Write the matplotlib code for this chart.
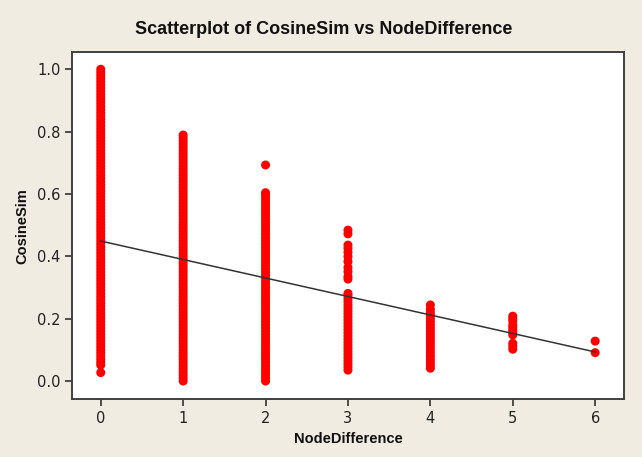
import matplotlib
matplotlib.use("Agg")
import matplotlib.pyplot as plt
import numpy as np

# ---- data ----
node_differences = [0, 1, 2, 3, 4, 5, 6]

sim_0 = [0.027, 0.051, 0.06, 0.07, 0.08, 0.09, 0.10, 0.11, 0.12, 0.13, 0.14,
         0.15, 0.16, 0.17, 0.18, 0.19, 0.20, 0.21, 0.22, 0.23, 0.24, 0.25, 0.26,
         0.27, 0.28, 0.29, 0.30, 0.31, 0.32, 0.33, 0.34, 0.35, 0.36, 0.37, 0.38,
         0.39, 0.40, 0.41, 0.42, 0.43, 0.44, 0.45, 0.46, 0.47, 0.48, 0.49, 0.50,
         0.51, 0.52, 0.53, 0.54, 0.55, 0.56, 0.57, 0.58, 0.59, 0.60, 0.61, 0.62,
         0.63, 0.64, 0.65, 0.66, 0.67, 0.68, 0.69, 0.70, 0.71, 0.72, 0.73, 0.74,
         0.75, 0.76, 0.77, 0.78, 0.79, 0.80, 0.81, 0.82, 0.83, 0.84, 0.85, 0.86,
         0.87, 0.88, 0.89, 0.90, 0.91, 0.92, 0.93, 0.94, 0.95, 0.96, 0.97, 0.98,
         0.99, 1.0]
sim_1 = [0.0, 0.01, 0.02, 0.03, 0.04, 0.05, 0.06, 0.07, 0.08, 0.09, 0.10, 0.11,
         0.12, 0.13, 0.14, 0.15, 0.16, 0.17, 0.18, 0.19, 0.20, 0.21, 0.22, 0.23,
         0.24, 0.25, 0.26, 0.27, 0.28, 0.29, 0.30, 0.31, 0.32, 0.33, 0.34, 0.35,
         0.36, 0.37, 0.38, 0.39, 0.40, 0.41, 0.42, 0.43, 0.44, 0.45, 0.46, 0.47,
         0.48, 0.49, 0.50, 0.51, 0.52, 0.53, 0.54, 0.55, 0.56, 0.57, 0.58, 0.59,
         0.60, 0.61, 0.62, 0.63, 0.64, 0.65, 0.66, 0.67, 0.68, 0.69, 0.70, 0.71,
         0.72, 0.73, 0.74, 0.75, 0.76, 0.77, 0.78, 0.789]
sim_2 = [0.0, 0.01, 0.02, 0.03, 0.04, 0.05, 0.06, 0.07, 0.08, 0.09, 0.10, 0.11,
         0.12, 0.13, 0.14, 0.15, 0.16, 0.17, 0.18, 0.19, 0.20, 0.21, 0.22, 0.23,
         0.24, 0.25, 0.26, 0.27, 0.28, 0.29, 0.30, 0.31, 0.32, 0.33, 0.34, 0.35,
         0.36, 0.37, 0.38, 0.39, 0.40, 0.41, 0.42, 0.43, 0.44, 0.45, 0.46, 0.47,
         0.48, 0.49, 0.50, 0.51, 0.52, 0.53, 0.54, 0.55, 0.56, 0.57, 0.58, 0.59,
         0.60, 0.604, 0.693]
sim_3 = [0.035, 0.045, 0.055, 0.065, 0.075, 0.085, 0.095, 0.105, 0.115, 0.125,
         0.135, 0.145, 0.155, 0.165, 0.175, 0.185, 0.195, 0.205, 0.215, 0.225,
         0.235, 0.245, 0.255, 0.265, 0.275, 0.281, 0.327, 0.335, 0.351, 0.364,
         0.383, 0.399, 0.413, 0.426, 0.436, 0.472, 0.484]
sim_4 = [0.041, 0.05, 0.06, 0.07, 0.08, 0.09, 0.10, 0.11, 0.12, 0.13, 0.14, 0.15,
         0.16, 0.17, 0.18, 0.19, 0.20, 0.21, 0.22, 0.23, 0.244]
sim_5 = [0.102, 0.112, 0.121, 0.148, 0.156, 0.164, 0.172, 0.180, 0.193, 0.200, 0.208]
sim_6 = [0.091, 0.128]
cosine_sims = [sim_0, sim_1, sim_2, sim_3, sim_4, sim_5, sim_6]

# fitted regression line
fit_intercept = 0.449
fit_slope = -0.0593
fit_x_range = [0, 6]

x_ticks = [0, 1, 2, 3, 4, 5, 6]
y_ticks = [0.0, 0.2, 0.4, 0.6, 0.8, 1.0]

title = "Scatterplot of CosineSim vs NodeDifference"
x_label = "NodeDifference"
y_label = "CosineSim"

# ---- drawing ----
bg = "#f1ece2"
fig = plt.figure(figsize=(6.42, 4.57), dpi=100, facecolor=bg)
ax = fig.add_axes([0.112, 0.126, 0.860, 0.760])
ax.set_facecolor("white")

xs = []
ys = []
for nd, vals in zip(node_differences, cosine_sims):
    xs.extend([nd] * len(vals))
    ys.extend(vals)
ax.scatter(xs, ys, s=42, c="#ff0000", edgecolors="none", zorder=2)

lx = np.array(fit_x_range, dtype=float)
ax.plot(lx, fit_intercept + fit_slope * lx, color="#333333", lw=1.1, zorder=3)

ax.set_xlim(-0.35, 6.35)
ax.set_ylim(-0.059, 1.055)
ax.set_xticks(x_ticks)
ax.set_yticks(y_ticks)
ax.set_xticklabels([str(t) for t in x_ticks])
ax.set_yticklabels([f"{t:.1f}" for t in y_ticks])

fam = ["Liberation Sans", "DejaVu Sans"]
for lab in ax.get_xticklabels() + ax.get_yticklabels():
    lab.set_fontfamily(["DejaVu Sans"])
    lab.set_fontsize(10.5)
    lab.set_color("#222222")

ax.tick_params(direction="out", length=5, width=1.2, color="#333333", pad=3)
for sp in ax.spines.values():
    sp.set_color("#404040")
    sp.set_linewidth(1.4)

ax.set_xlabel(x_label, fontsize=10.5, fontweight="bold", family=fam, labelpad=5, color="#111111")
ax.set_ylabel(y_label, fontsize=10.5, fontweight="bold", family=fam, labelpad=6, color="#111111")
fig.text(0.5 + 0.004, 1 - 30 / 457, title, ha="center", va="center", fontsize=13,
         fontweight="bold", family=fam, color="#111111")

fig.savefig("out.png", dpi=100, facecolor=bg)
